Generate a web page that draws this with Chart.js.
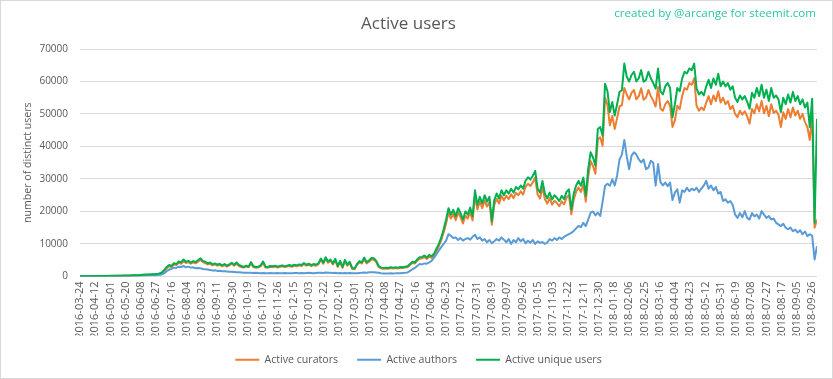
<!DOCTYPE html>
<html><head><meta charset="utf-8">
<script src="https://cdn.jsdelivr.net/npm/chart.js@4/dist/chart.umd.min.js"></script>
<style>html,body{margin:0;padding:0;background:#fff}#wrap{width:833px;height:379px;position:relative}</style>
</head><body><div id="wrap"><canvas id="c" width="833" height="379"></canvas></div>
<script>
// Date tick labels (one every 19 days)
const tickLabels = ["2016-03-24","2016-04-12","2016-05-01","2016-05-20","2016-06-08","2016-06-27","2016-07-16","2016-08-04","2016-08-23","2016-09-11","2016-09-30","2016-10-19","2016-11-07","2016-11-26","2016-12-15","2017-01-03","2017-01-22","2017-02-10","2017-03-01","2017-03-20","2017-04-08","2017-04-27","2017-05-16","2017-06-04","2017-06-23","2017-07-12","2017-07-31","2017-08-19","2017-09-07","2017-09-26","2017-10-15","2017-11-03","2017-11-22","2017-12-11","2017-12-30","2018-01-18","2018-02-06","2018-02-25","2018-03-16","2018-04-04","2018-04-23","2018-05-12","2018-05-31","2018-06-19","2018-07-08","2018-07-27","2018-08-17","2018-09-05","2018-09-26"];
const LABEL_EVERY_DAYS = 19;
const SAMPLE_EVERY_DAYS = 3; // values below are read every 3 days from 2016-03-24

const activeCurators = [15,30,45,55,60,70,80,90,95,105,120,130,140,145,160,170,180,190,205,215,230,250,265,280,315,350,420,
470,520,500,590,550,660,760,1000,
1700,2500,3100,2900,3700,3500,4200,
3900,4700,4100,4400,3900,4300,4000,4600,5100,
4400,4100,3700,3900,3400,3700,3300,3600,3100,3500,3000,3400,3900,3300,3900,3200,
2900,2700,3000,2800,4000,2800,2700,2750,3100,4200,2750,
2650,2950,2850,3050,2750,2950,3100,2850,3050,3200,2950,3300,3100,3400,
3200,3800,3300,3600,3200,3500,3300,3700,
5100,3900,5400,4200,4800,
3700,5000,2900,4400,2650,4700,3300,4100,2350,2200,
3500,4300,4000,5300,4000,4500,5200,5100,4400,2900,
2450,2350,2450,2380,2550,2450,2550,2460,2650,2550,2750,2850,
3500,4150,3950,4800,5450,5550,5900,5350,6100,5700,6450,
7900,9300,11200,13500,16300,19600,
17800,19200,17300,19700,18200,16300,18700,17800,19800,17200,
24900,20600,23000,21000,23400,21500,22900,15900,
22000,23900,22400,24800,23400,24800,23800,25300,24100,25700,25000,26200,25200,
27600,28500,27800,29000,30400,25200,24000,27400,
23800,22400,24100,22100,23300,22600,21600,23100,22200,
24200,25000,19100,23700,26100,27400,26000,28300,23000,
30600,35500,34000,31600,42200,42800,40200,55000,52800,
46500,49400,45400,48700,52300,52700,58000,
56000,54500,56500,57400,54500,55500,57900,54400,55000,57400,55500,54100,52300,58300,51700,
51000,53000,54000,52500,46000,48000,52500,51500,55500,58000,57500,59500,59000,61000,
52500,51000,52000,51200,53500,55500,53000,55700,54000,57000,53500,55000,53000,54000,51500,52500,
50000,49000,51000,49800,50800,49300,47000,51500,50200,53000,50800,54000,50200,52500,49300,53000,50300,51000,49800,
46000,50500,48500,51500,49000,52000,49500,51000,48500,50000,47500,46000,42000,
50000,15000,17500];

const activeAuthors = [10,20,30,40,45,50,55,60,65,70,
80,85,90,95,100,110,115,120,130,140,150,
160,170,180,200,230,260,
300,340,320,380,360,420,480,600,
1000,1600,2100,2300,2700,2600,3000,2900,3200,2800,3000,2700,2800,2500,2600,2500,
2300,2200,2100,2000,1800,1900,1700,1750,1600,1550,1500,1450,1400,1350,1300,
1250,1200,1150,1150,1100,1100,1050,1100,1050,1000,1050,1000,
1000,1050,980,1000,1020,980,1000,1050,1000,980,1000,1020,1050,1000,1080,1000,1050,1100,1050,1000,1050,1100,
1150,1050,1200,1100,1150,1050,1100,1000,1050,980,1050,1000,1050,1000,950,1000,1050,1100,1200,1150,1250,1300,1250,1200,1100,
950,900,920,900,950,930,950,1000,980,1050,1100,1200,
1700,2200,2600,3200,3800,3700,4000,3900,4300,4800,5800,6800,8000,9000,10000,11000,13000,
12500,11800,12000,11200,11800,11000,11500,11800,11300,12200,12800,11500,12000,11000,11500,10500,11200,10200,10800,11500,11000,12000,11300,10500,
11500,10000,11200,10500,11800,10800,11500,10200,11000,10400,11200,10000,10800,10300,10600,10000,10400,11500,11000,11800,11200,12000,11500,12200,12600,13000,13400,
14000,14800,15500,15200,16500,15500,17500,19600,20000,18800,19600,18600,23000,27900,28500,27900,29900,28000,31000,36000,37500,42000,
37000,33000,37200,38200,37500,36000,35100,36000,33000,33500,35600,35000,27900,34600,29000,
28000,28900,27800,28900,23500,25800,26800,22700,26500,26000,27300,26200,27000,26500,27300,26000,27000,28000,29400,27000,28000,26500,27500,25500,26000,23200,23700,22700,23200,22000,
19000,18000,19500,18200,20100,18000,17500,19500,18500,19000,17800,20100,19000,18000,18600,17500,17800,16500,16000,15500,16200,15000,14500,15000,13900,14400,13500,14200,13000,13800,12400,13000,12500,5200,9300];

const activeUniqueUsers = [20,40,60,70,80,90,100,110,120,130,150,160,170,180,200,210,220,230,250,260,280,300,320,340,380,420,500,
560,620,600,700,650,780,900,1200,
2000,2900,3500,3200,4100,3800,4600,
4300,5200,4500,4800,4200,4700,4400,5000,5600,
4800,4500,4000,4300,3700,4000,3600,3900,3400,3800,3300,3700,4200,3600,4300,3500,
3200,2900,3300,3000,4400,3100,2900,3000,3400,4600,3000,
2900,3200,3100,3300,3000,3200,3400,3100,3300,3500,3200,3600,3400,3700,
3500,4100,3600,3900,3500,3800,3600,4000,
5500,4200,5900,4600,5200,
4000,5400,3200,4800,2900,5100,3600,4500,2600,2400,
3800,4700,4300,5800,4400,4900,5700,5600,4800,3200,
2700,2600,2700,2600,2800,2700,2800,2700,2900,2800,3000,3100,
3800,4500,4300,5200,5900,6000,6400,5800,6600,6200,7000,
8500,10000,12000,14500,17500,21000,
19000,20500,18500,21000,19500,17500,20000,19000,21200,18500,
26500,22000,24500,22500,25000,23000,24500,17000,
23500,25500,24000,26500,25000,26500,25500,27000,25800,27500,26800,28000,27000,
29500,30500,29800,31000,32500,27000,25800,29400,
25500,24000,25800,23700,25000,24200,23200,24800,23800,
26000,26800,20600,25500,28000,29400,27900,30400,24800,
33000,38200,36600,34100,45400,46000,43300,59300,57000,
50600,53700,49500,53000,56800,57300,65500,
61500,60000,62000,63000,60000,61000,63500,59900,60500,63000,61000,59500,57800,64000,57000,
56000,58500,59500,58000,49000,53000,58000,57000,60900,63000,62500,64000,63500,65500,
57800,56000,56800,55700,58500,60500,58000,60900,59000,62400,58500,60000,58500,59500,57500,58500,
55000,53700,55700,54500,55500,53800,51600,56500,55000,58000,55500,59000,55000,57500,54000,58000,55000,55700,54500,
50600,55000,53000,56000,53500,56800,54000,55500,53000,54500,52000,53500,46000,
54700,16500,48500];

const yTicksMax = 70000, yTickStep = 10000;

const toPoints = arr => arr.map((v, i) => ({x: i * SAMPLE_EVERY_DAYS, y: v}));
const lastDay = (activeUniqueUsers.length - 1) * SAMPLE_EVERY_DAYS;
const GREY = '#595959';
const FONT = "'Open Sans', sans-serif";

const frame = {
  id: 'frame',
  beforeDraw(chart) {
    const c = chart.ctx;
    c.save(); c.fillStyle = '#fff'; c.fillRect(0, 0, chart.width, chart.height); c.restore();
  },
  afterLayout(chart) {
    if (chart.legend) { chart.legend.left += 10; chart.legend.right += 10; }
  },
  afterDraw(chart) {
    const c = chart.ctx;
    c.save();
    c.strokeStyle = '#d9d9d9'; c.lineWidth = 1;
    c.strokeRect(0.5, 0.5, chart.width - 1, chart.height - 1);
    c.fillStyle = '#2cc6a4';
    c.font = "11.6px " + FONT;
    c.textAlign = 'right'; c.textBaseline = 'middle';
    c.fillText('created by @arcange for steemit.com', 816, 14);
    c.restore();
  }
};

new Chart(document.getElementById('c'), {
  type: 'line',
  data: {
    datasets: [
      {label: 'Active curators', data: toPoints(activeCurators), borderColor: '#ED7D31', backgroundColor: '#ED7D31', order: 2},
      {label: 'Active authors', data: toPoints(activeAuthors), borderColor: '#5B9BD5', backgroundColor: '#5B9BD5', order: 1},
      {label: 'Active unique users', data: toPoints(activeUniqueUsers), borderColor: '#00B050', backgroundColor: '#00B050', order: 0}
    ]
  },
  options: {
    responsive: false, animation: false, devicePixelRatio: 1,
    parsing: false,
    elements: {point: {radius: 0, hoverRadius: 0}, line: {borderWidth: 2, tension: 0, borderJoinStyle: 'round'}},
    layout: {padding: {left: 0, right: 16, top: 0, bottom: 4}},
    plugins: {
      tooltip: {enabled: false},
      title: {display: true, text: 'Active users', color: GREY, font: {family: FONT, size: 17, weight: 'normal'}, padding: {top: 14, bottom: 14.6}},
      legend: {
        position: 'bottom',
        labels: {
          color: GREY, font: {family: FONT, size: 10.6}, boxWidth: 24, boxHeight: 2, padding: 19,
          sort: (a, b) => a.datasetIndex - b.datasetIndex,
          generateLabels: (chart) => Chart.defaults.plugins.legend.labels.generateLabels(chart).map(it => Object.assign(it, {lineWidth: 0}))
        }
      }
    },
    scales: {
      x: {
        type: 'linear', min: 0, max: lastDay,
        grid: {display: false, drawTicks: false},
        border: {display: false},
        afterBuildTicks: s => { s.ticks = tickLabels.map((_, k) => ({value: k * LABEL_EVERY_DAYS})); },
        afterFit: s => { s.height = 59; },
        ticks: {
          autoSkip: false, minRotation: 90, maxRotation: 90, padding: 5,
          color: GREY, font: {family: FONT, size: 11},
          callback: v => tickLabels[Math.round(v / LABEL_EVERY_DAYS)]
        }
      },
      y: {
        min: 0, max: yTicksMax,
        grid: {color: '#d9d9d9', drawTicks: false},
        border: {display: false},
        afterFit: s => { s.width = 80; },
        ticks: {stepSize: yTickStep, padding: 12, color: GREY, font: {family: FONT, size: 10}, callback: v => String(v)},
        title: {display: true, text: 'number of distinct users', color: GREY, font: {family: FONT, size: 10.6}, padding: {top: 22, bottom: 0}}
      }
    }
  },
  plugins: [frame]
});
</script></body></html>
